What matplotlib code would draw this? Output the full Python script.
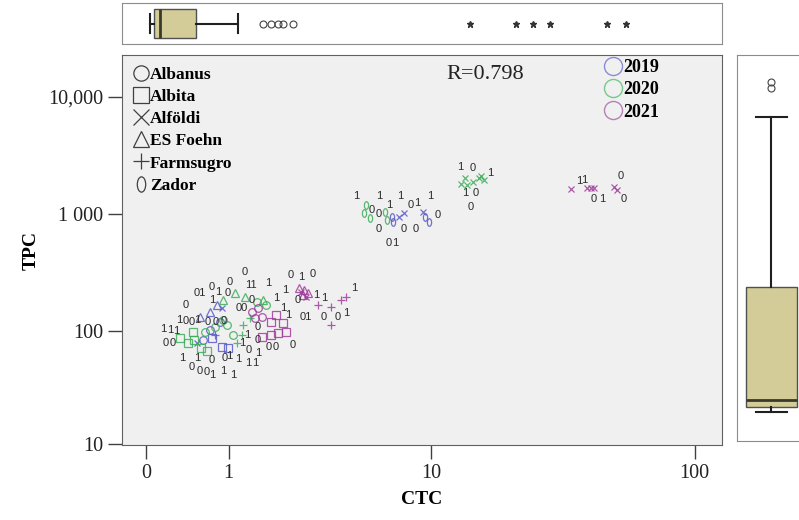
import numpy as np
import matplotlib
matplotlib.use('Agg')
import matplotlib.pyplot as plt
from matplotlib.path import Path
from matplotlib.lines import Line2D

# ---- data (CTC, TPC) ----
varieties = ['Albanus', 'Albita', 'Alföldi', 'ES Foehn', 'Farmsugro', 'Zador']
years = ['2019', '2020', '2021']

var_2019 = ['Albanus', 'Albanus', 'Albanus', 'Albita', 'Albita', 'Albita',
            'Alföldi', 'Alföldi', 'Alföldi', 'Alföldi', 'Alföldi',
            'ES Foehn', 'ES Foehn', 'ES Foehn', 'Farmsugro',
            'Zador', 'Zador', 'Zador', 'Zador']
ctc_2019 = [0.71, 0.61, 0.86, 0.89, 0.74, 0.99,
            0.89, 0.53, 7.37, 7.74, 9.3,
            0.71, 0.81, 0.57, 0.78,
            7.0, 6.9, 9.4, 9.8]
tpc_2019 = [102, 84, 120, 73, 87, 71,
            158, 79, 946, 1023, 1050,
            146, 167, 132, 92,
            859, 946, 946, 859]

var_2020 = ['Albanus'] * 7 + ['Albita'] * 6 + ['ES Foehn'] * 4 + ['Farmsugro'] * 4 \
    + ['Alföldi'] * 7 + ['Zador'] * 5
ctc_2020 = [1.08, 1.55, 1.73, 0.91, 0.78, 0.98, 0.64,
            0.42, 0.50, 0.58, 0.67, 0.48, 0.335,
            1.11, 0.91, 1.30, 1.68,
            1.24, 1.26, 1.40, 1.15,
            13.6, 13.1, 13.9, 14.6, 15.5, 16.2, 15.7,
            5.38, 5.26, 5.55, 6.43, 6.56]
tpc_2020 = [92, 178, 167, 125, 108, 113, 98,
            79, 84, 71, 67, 98, 87,
            212, 185, 196, 185,
            92, 113, 129, 79,
            2050, 1812, 1774, 1884, 2037, 1958, 2120,
            1197, 1023, 929, 1040, 894]

var_2021 = ['Albanus'] * 4 + ['Albita'] * 7 + ['ES Foehn'] * 4 + ['Alföldi'] * 8 \
    + ['Farmsugro'] * 5
ctc_2021 = [1.44, 1.66, 1.50, 1.57,
            1.97, 2.15, 2.23, 2.02, 1.85, 1.66, 1.87,
            2.61, 2.77, 2.90, 2.73,
            2.83, 2.67, 34.8, 39.7, 41.1, 42.2, 50.2, 51.6,
            3.25, 3.74, 4.15, 4.38, 3.74]
tpc_2021 = [146, 132, 129, 158,
            138, 117, 98, 96, 92, 89, 120,
            234, 225, 212, 204,
            196, 216, 1641, 1672, 1672, 1672, 1707, 1609,
            167, 161, 185, 196, 113]

# point labels (0 / 1)
label_ctc = [13.0, 14.6, 17.0, 13.6, 15.0, 14.4,
             37.3, 39.0, 53.3, 42.2, 45.3, 54.6,
             4.86, 6.12, 7.47, 9.93, 5.65, 6.06, 6.75, 8.27, 8.76, 10.6,
             6.06, 7.74, 8.67, 6.69, 7.16,
             1.30, 2.37, 2.70, 3.07, 1.02, 1.42, 1.80, 0.57, 0.74, 0.83, 0.98,
             0.74, 0.40, 1.98, 2.22, 2.58, 3.17, 3.47, 4.76, 1.44, 1.24, 2.18,
             2.31, 2.83, 3.47, 4.02, 4.38,
             0.32, 0.39, 0.47, 0.54, 0.68, 0.80, 0.92,
             0.15, 0.22, 0.29, 0.18, 0.25,
             1.55, 1.34, 1.55, 1.24, 1.80, 1.97, 2.43, 1.36, 1.57,
             0.35, 0.54, 0.74, 0.94, 1.02, 1.17, 1.36, 1.50,
             0.47, 0.57, 0.67, 0.74, 0.91, 1.08]
label_tpc = [2526, 2479, 2245, 1517, 1517, 1151,
             1920, 1958, 2120, 1349, 1349, 1349,
             1429, 1429, 1429, 1429, 1087, 1004, 1197, 1197, 1247, 984,
             748, 748, 748, 569, 569,
             321, 303, 291, 308, 264, 249, 259, 212, 239, 216, 212,
             185, 167, 192, 224, 185, 204, 192, 234, 185, 158, 158,
             138, 132, 132, 132, 143,
             125, 122, 120, 125, 120, 120, 122,
             104, 102, 100, 79, 79,
             108, 92, 84, 79, 73, 73, 76, 69, 65,
             59, 59, 56, 59, 61, 58, 53, 53,
             49, 45, 44, 42, 45, 42]
label_text = ['1', '0', '1', '1', '0', '0',
              '1', '1', '0', '0', '1', '0',
              '1', '1', '1', '1', '0', '0', '1', '0', '1', '0',
              '0', '0', '0', '0', '1',
              '0', '0', '1', '0', '0', '11', '1', '01', '0', '1', '0',
              '1', '0', '1', '1', '0', '1', '1', '1', '0', '00', '1',
              '1', '01', '0', '0', '1',
              '1', '0', '0', '1', '0', '0', '0',
              '1', '1', '1', '0', '0',
              '0', '1', '0', '1', '0', '0', '0', '0', '1',
              '1', '1', '0', '0', '1', '1', '1', '1',
              '0', '0', '0', '1', '1', '1']

# marginal box plots
top_box = dict(whislo=0.035, q1=0.07, med=0.126, q3=0.517, whishi=1.167)
top_mild = [1.68, 1.85, 2.02, 2.15, 2.43]
top_extreme = [14.3, 21.4, 24.9, 29.0, 47.2, 55.7]
right_box = dict(whislo=19.6, q1=21.8, med=25, q3=239, whishi=6740)
right_mild = [13300, 12000]


def safe_log(v):
    v = np.asarray(v, dtype=float)
    return np.sign(v) * np.log10(np.abs(v) + 1)


def safe_log_inv(v):
    v = np.asarray(v, dtype=float)
    return np.sign(v) * (10 ** np.abs(v) - 1)


SERIF = 'Liberation Serif'
SANS = 'Liberation Sans'
year_colors = {'2019': '#5a5ac8', '2020': '#3cae5a', '2021': '#a03c9c'}
legend_colors = {'2019': '#8c8cd2', '2020': '#78c88c', '2021': '#b482b4'}

circ = Path.unit_circle()
ellipse = Path(circ.vertices * [0.55, 1.0], circ.codes)
markers = {'Albanus': 'o', 'Albita': 's', 'Alföldi': 'x',
           'ES Foehn': '^', 'Farmsugro': '+', 'Zador': ellipse}

xlim = (-0.225, 126)
ylim = (9.8, 22790)

fig = plt.figure(figsize=(7.99, 5.20), dpi=100)
ax = fig.add_axes([0.1527, 0.1442, 0.7509, 0.75])
ax_top = fig.add_axes([0.1527, 0.9154, 0.7509, 0.0788])
ax_right = fig.add_axes([0.9224, 0.1519, 0.1001, 0.7423])

ax.set_xscale('function', functions=(safe_log, safe_log_inv))
ax.set_yscale('function', functions=(safe_log, safe_log_inv))
ax.set_facecolor('#f0f0f0')

data = {'2019': (var_2019, ctc_2019, tpc_2019),
        '2020': (var_2020, ctc_2020, tpc_2020),
        '2021': (var_2021, ctc_2021, tpc_2021)}

for yr in years:
    var, ctc, tpc = data[yr]
    var = np.array(var)
    ctc = np.array(ctc)
    tpc = np.array(tpc)
    for v in varieties:
        m = var == v
        if not m.any():
            continue
        ms = 4.5 if v == 'Alföldi' else 5.5
        ax.plot(ctc[m], tpc[m], ls='none', marker=markers[v], ms=ms, mew=0.9,
                mfc='none', mec=year_colors[yr], alpha=0.85)

for x, y, t in zip(label_ctc, label_tpc, label_text):
    ax.text(x, y, t, fontsize=8, color='#2a2a2a', ha='center', va='center',
            family=SANS)

ax.set_xlim(*xlim)
ax.set_ylim(*ylim)
ax.set_xticks([0, 1, 10, 100])
ax.set_xticklabels(['0', '1', '10', '100'])
ax.set_yticks([10, 100, 1000, 10000])
ax.set_yticklabels(['10', '100', '1 000', '10,000'])
ax.xaxis.set_minor_locator(plt.NullLocator())
ax.yaxis.set_minor_locator(plt.NullLocator())
ax.tick_params(direction='out', length=10, width=1, color='#404040',
               labelsize=14.5, labelcolor='#222222')
for lbl in ax.get_xticklabels() + ax.get_yticklabels():
    lbl.set_family(SERIF)
for s in ax.spines.values():
    s.set_color('#606060')

ax.set_xlabel('CTC', fontsize=14, fontweight='bold', family=SERIF, labelpad=6)
ax.set_ylabel('TPC', fontsize=14, fontweight='bold', family=SERIF, labelpad=6)

# variety legend
h1 = [Line2D([], [], ls='none', marker=markers[v], ms=11, mew=0.9,
             mfc='none', mec='#404040') for v in varieties]
leg1 = ax.legend(h1, varieties, loc='upper left', bbox_to_anchor=(0.0, 1.0),
                 frameon=False, prop=dict(family=SERIF, weight='bold', size=12.5),
                 handlelength=0.8, handletextpad=0.1, labelspacing=0.34,
                 borderaxespad=0.3)
ax.add_artist(leg1)

h2 = [Line2D([], [], ls='none', marker='o', ms=13, mew=1.0,
             mfc='none', mec=legend_colors[y]) for y in years]
ax.legend(h2, years, loc='upper left', bbox_to_anchor=(0.787, 1.018),
          frameon=False, prop=dict(family=SERIF, weight='bold', size=13),
          handlelength=0.9, handletextpad=0.1, labelspacing=0.3,
          borderaxespad=0.2)

ax.text(0.54, 0.975, 'R=0.798', transform=ax.transAxes, fontsize=16,
        family=SERIF, va='top', ha='left', color='#222222')

# top marginal box plot
box_face = '#d3cc98'
ax_top.set_xscale('function', functions=(safe_log, safe_log_inv))
ax_top.bxp([dict(top_box, fliers=[])], positions=[0], widths=0.73,
           orientation='horizontal', patch_artist=True, showfliers=False,
           boxprops=dict(facecolor=box_face, edgecolor='#505050', lw=1),
           medianprops=dict(color='#3a3a2a', lw=2),
           whiskerprops=dict(color='#202020', lw=1.5),
           capprops=dict(color='#202020', lw=1.5), capwidths=0.45)
ax_top.plot(top_mild, np.zeros(len(top_mild)), ls='none', marker='o', ms=5,
            mfc='none', mec='#444444', mew=0.8)
ax_top.plot(top_extreme, np.zeros(len(top_extreme)), ls='none', marker='*',
            ms=5, color='#333333')
ax_top.set_xlim(*xlim)
ax_top.set_ylim(-0.5, 0.5)
ax_top.set_xticks([])
ax_top.set_yticks([])
ax_top.xaxis.set_minor_locator(plt.NullLocator())
for s in ax_top.spines.values():
    s.set_color('#8c8c8c')

# right marginal box plot (panel runs past the right edge of the figure)
ax_right.set_yscale('function', functions=(safe_log, safe_log_inv))
ax_right.bxp([dict(right_box, fliers=[])], positions=[0], widths=0.74,
             orientation='vertical', patch_artist=True, showfliers=False,
             boxprops=dict(facecolor=box_face, edgecolor='#505050', lw=1),
             medianprops=dict(color='#3a3a2a', lw=2),
             whiskerprops=dict(color='#202020', lw=1.5),
             capprops=dict(color='#202020', lw=1.5), capwidths=0.45)
ax_right.plot(np.zeros(len(right_mild)), right_mild, ls='none', marker='o',
              ms=5, mfc='none', mec='#444444', mew=0.8)
ax_right.set_xlim(-0.5, 0.66)
ax_right.set_ylim(10.7, 22790)
ax_right.set_xticks([])
ax_right.set_yticks([])
ax_right.yaxis.set_minor_locator(plt.NullLocator())
for s in ax_right.spines.values():
    s.set_color('#8c8c8c')

fig.savefig('out.png', dpi=100)
